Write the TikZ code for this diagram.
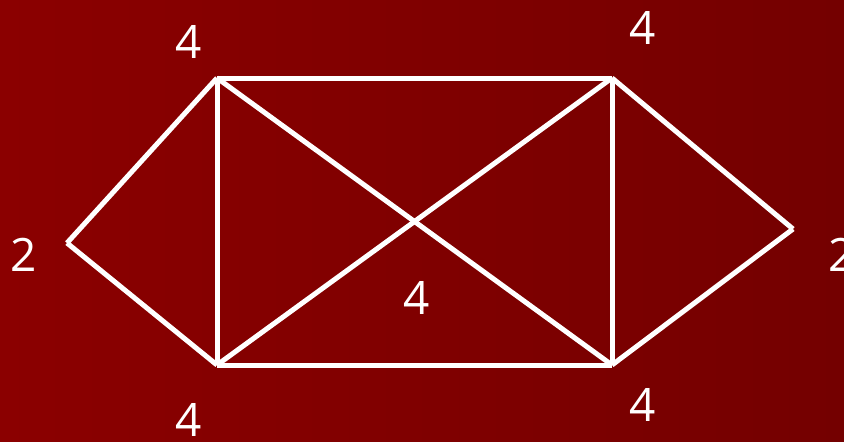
\documentclass[tikz,border=0pt]{standalone}
\usepackage{fontspec}
\setmainfont{Open Sans}
\definecolor{bgleft}{RGB}{139,0,0}
\definecolor{bgright}{RGB}{116,0,0}
\tikzset{
  edge/.style={draw=white, line width=5pt},
  deg/.style={text=white, font=\fontsize{46}{46}\selectfont, inner sep=0pt, anchor=center}
}
\begin{document}
\begin{tikzpicture}[x=1pt,y=-1pt]
\useasboundingbox (0,0) rectangle (844,442);
\shade[left color=bgleft, right color=bgright] (0,0) rectangle (844,442);
\coordinate (L) at (67,243);
\coordinate (TL) at (217,78);
\coordinate (TR) at (612,78);
\coordinate (R) at (793,229);
\coordinate (BR) at (612,365);
\coordinate (BL) at (217,365);
\draw[edge] (L) -- (TL);
\draw[edge] (L) -- (BL);
\draw[edge] (TL) -- (TR);
\draw[edge] (BL) -- (BR);
\draw[edge] (TL) -- (BL);
\draw[edge] (TR) -- (BR);
\draw[edge] (TL) -- (BR);
\draw[edge] (TR) -- (BL);
\draw[edge] (TR) -- (R);
\draw[edge] (BR) -- (R);
\node[deg] (nTL) at (189,42) {4};
\node[deg] (nTR) at (643,28) {4};
\node[deg] (nL) at (24,255) {2};
\node[deg] (nR) at (842,255) {2};
\node[deg] (nC) at (417,298) {4};
\node[deg] (nBL) at (189,420) {4};
\node[deg] (nBR) at (643,405) {4};
\end{tikzpicture}
\end{document}
